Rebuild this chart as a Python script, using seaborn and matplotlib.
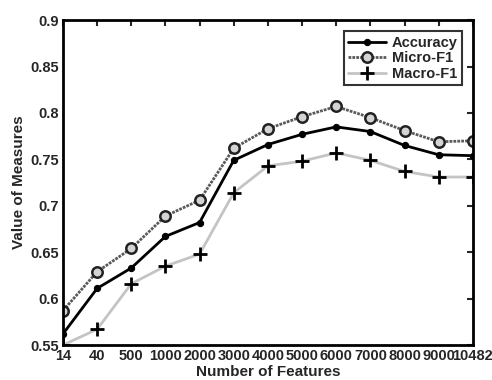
import numpy as np
import pandas as pd
import matplotlib
matplotlib.use("Agg")
import matplotlib.pyplot as plt
import seaborn as sns

# values
features = ["14", "40", "500", "1000", "2000", "3000", "4000",
            "5000", "6000", "7000", "8000", "9000", "10482"]
accuracy = [0.562, 0.611, 0.633, 0.667, 0.682, 0.749, 0.766,
            0.777, 0.785, 0.780, 0.765, 0.755, 0.754]
micro_f1 = [0.587, 0.629, 0.654, 0.689, 0.706, 0.762, 0.783,
            0.796, 0.807, 0.795, 0.781, 0.769, 0.770]
macro_f1 = [0.550, 0.567, 0.616, 0.635, 0.648, 0.714, 0.743,
            0.748, 0.757, 0.749, 0.737, 0.731, 0.731]

sns.set_theme(style="white")
plt.rcParams["font.family"] = ["Liberation Sans", "DejaVu Sans"]
plt.rcParams["font.weight"] = "bold"

fig = plt.figure(figsize=(4.92, 3.8), dpi=100)
ax = fig.add_axes([0.128, 0.092, 0.833, 0.855])

pos = np.arange(len(features))

sns.lineplot(x=pos, y=accuracy, ax=ax, color="black", lw=2,
             marker="o", markersize=4.5, markeredgecolor="black",
             label="Accuracy")
sns.lineplot(x=pos, y=micro_f1, ax=ax, color="#5a5a5a", lw=2,
             linestyle=(0, (1, 0.4)),
             marker="o", markersize=7.5, markerfacecolor="#d4d4d4",
             markeredgecolor="#222222", markeredgewidth=1.8,
             label="Micro-F1")
sns.lineplot(x=pos, y=macro_f1, ax=ax, color="#c4c4c4", lw=2,
             marker="+", markersize=10, markeredgecolor="black",
             markeredgewidth=2, label="Macro-F1")

ax.set_xlim(0, len(features) - 1)
ax.set_ylim(0.55, 0.9)
ax.set_xticks(pos)
ax.set_xticklabels(features)
ax.set_yticks([0.55, 0.6, 0.65, 0.7, 0.75, 0.8, 0.85, 0.9])
ax.set_yticklabels(["0.55", "0.6", "0.65", "0.7", "0.75", "0.8", "0.85", "0.9"])

ax.tick_params(direction="in", length=4, width=1.5, top=True, right=True,
               labelsize=10.5, pad=3)
for lbl in ax.get_xticklabels() + ax.get_yticklabels():
    lbl.set_fontweight("bold")
for sp in ax.spines.values():
    sp.set_linewidth(2)
    sp.set_color("black")

ax.set_xlabel("Number of Features", fontsize=11, fontweight="bold", labelpad=1)
ax.set_ylabel("Value of Measures", fontsize=11, fontweight="bold", labelpad=3)

leg = ax.legend(loc="upper right", fontsize=10.5, frameon=True, fancybox=False,
                edgecolor="black", handlelength=2.6, borderpad=0.3,
                labelspacing=0.1, handletextpad=0.4,
                bbox_to_anchor=(0.992, 0.988))
leg.get_frame().set_linewidth(1.5)
for t in leg.get_texts():
    t.set_fontweight("bold")

fig.savefig("out.png", dpi=100, facecolor="white")
